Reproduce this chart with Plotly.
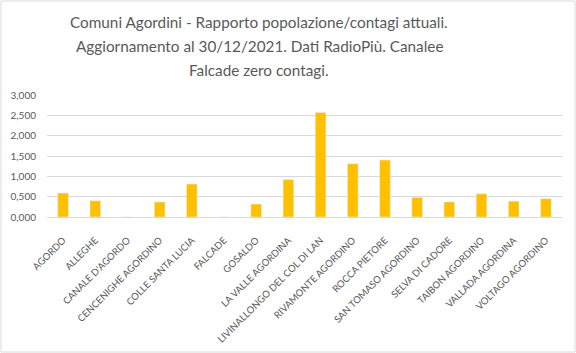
import plotly.graph_objects as go

comuni = ["AGORDO", "ALLEGHE", "CANALE D'AGORDO", "CENCENIGHE AGORDINO", "COLLE SANTA LUCIA",
          "FALCADE", "GOSALDO", "LA VALLE AGORDINA", "LIVINALLONGO DEL COL DI LAN",
          "RIVAMONTE AGORDINO", "ROCCA PIETORE", "SAN TOMASO AGORDINO", "SELVA DI CADORE",
          "TAIBON AGORDINO", "VALLADA AGORDINA", "VOLTAGO AGORDINO"]
valori = [0.59, 0.40, 0.0, 0.37, 0.81, 0.0, 0.32, 0.92, 2.57, 1.31, 1.40, 0.48, 0.37, 0.57, 0.39, 0.45]
y_ticks = [0, 0.5, 1.0, 1.5, 2.0, 2.5, 3.0]
titolo = ["Comuni Agordini - Rapporto popolazione/contagi attuali.",
          "Aggiornamento al 30/12/2021. Dati RadioPiù. Canalee",
          "Falcade zero contagi."]

W, H = 576, 353
L, R, T, B = 47, 14, 95, 136
FONT = "Lato, Open Sans, Liberation Sans, sans-serif"

fig = go.Figure(go.Bar(x=comuni, y=valori, marker_color="#FFC000", width=0.33))

pw, ph = W - L - R, H - T - B
fig.add_shape(type="rect", xref="paper", yref="paper",
              x0=(1 - L) / pw, x1=(W - 1 - L) / pw,
              y0=-(B - 1) / ph, y1=1 + (T - 1) / ph,
              line=dict(color="#d9d9d9", width=1), layer="below")
for i, riga in enumerate(titolo):
    yc = 22 + 24 * i
    fig.add_annotation(text=riga, xref="paper", yref="paper",
                       x=(259 - L) / pw, y=1 + (T - yc) / ph, xanchor="center", yanchor="middle",
                       showarrow=False, align="center",
                       font=dict(size=15.3, color="#595959", family=FONT))

fig.update_layout(
    width=W, height=H,
    margin=dict(l=L, r=R, t=T, b=B, autoexpand=False),
    paper_bgcolor="white", plot_bgcolor="white",
    separators=",.",
    font=dict(family=FONT, color="#595959"),
    showlegend=False,
    bargap=0.67,
)
fig.update_xaxes(tickangle=-45, tickfont=dict(size=9.6, color="#595959"), showline=True,
                 linecolor="#d9d9d9", ticks="", showgrid=False, automargin=False,
                 ticklabelstandoff=13)
fig.update_yaxes(range=[0, 3.0], tickvals=y_ticks, tickformat=".3f",
                 tickfont=dict(size=10, color="#595959"), gridcolor="#d9d9d9",
                 zeroline=False, showline=False, ticks="", automargin=False,
                 ticklabelstandoff=10)

fig.write_html("out.html")
